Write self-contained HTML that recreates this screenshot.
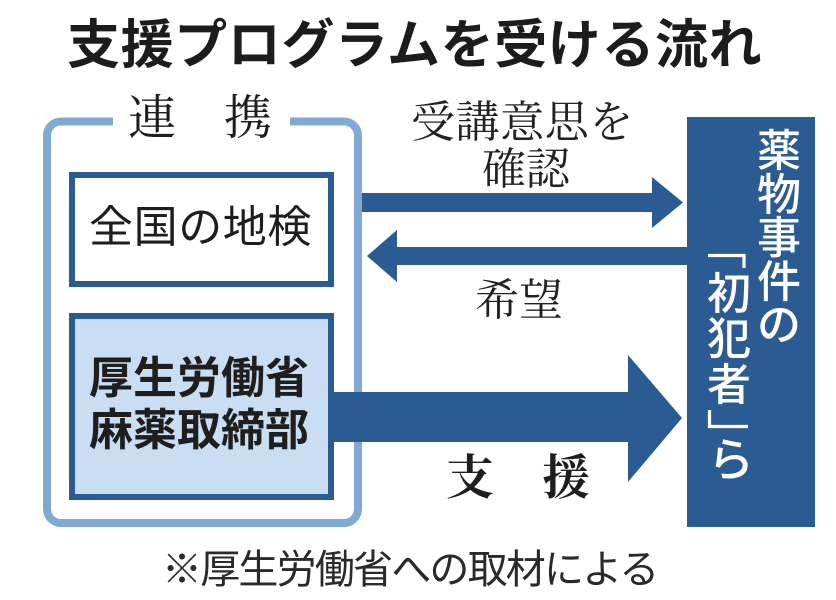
<!DOCTYPE html>
<html lang="ja">
<head>
<meta charset="utf-8">
<style>
  html,body{margin:0;padding:0;background:#fff;}
  #wrap{position:relative;width:836px;height:600px;overflow:hidden;background:#fff;}
  svg{position:absolute;left:0;top:0;}
  .t{position:absolute;white-space:nowrap;margin:0;padding:0;}
  .sans{font-family:"Liberation Sans","Noto Sans CJK JP",sans-serif;}
  .serif{font-family:"Liberation Serif","Noto Serif CJK SC","Noto Serif CJK JP",serif;}
  .v{position:absolute;width:44px;text-align:center;color:#fff;font-size:44px;line-height:44px;font-weight:500;
     font-family:"Liberation Sans","Noto Sans CJK JP",sans-serif;}
</style>
</head>
<body>
<div id="wrap">
<svg width="836" height="600" viewBox="0 0 836 600">
  <!-- outer light-blue frame -->
  <path d="M113,121.5 H61 A14,14 0 0 0 47,135.5 V509 A14,14 0 0 0 61,523 H344 A14,14 0 0 0 358,509 V135.5 A14,14 0 0 0 344,121.5 H290"
        fill="none" stroke="#80a9d3" stroke-width="8"/>
  <!-- box 1 -->
  <rect x="72" y="175" width="259" height="109" fill="#fff" stroke="#2b5b93" stroke-width="6"/>
  <!-- box 2 -->
  <rect x="72" y="316" width="259" height="181" fill="#c9def2" stroke="#2b5b93" stroke-width="6"/>
  <!-- right box -->
  <rect x="687" y="117" width="128" height="410" fill="#2b5b93"/>
  <!-- arrow 1 right -->
  <polygon points="362,193 652,193 652,177 683,202.5 652,228 652,212 362,212" fill="#2b5b93"/>
  <!-- arrow 2 left -->
  <polygon points="687,247 397,247 397,230 367,256 397,282 397,265 687,265" fill="#2b5b93"/>
  <!-- arrow 3 big right -->
  <polygon points="334,392 628,392 628,355 682,418 628,482 628,442 334,442" fill="#2b5b93"/>
  <!-- vertical brackets -->
  <path d="M708,255.5 H744 V268" fill="none" stroke="#fff" stroke-width="3.2"/>
  <path d="M709.5,410 V426.5 H748" fill="none" stroke="#fff" stroke-width="3.2"/>
</svg>

<!-- title -->
<div class="t sans" style="left:67px;top:19px;font-size:53px;line-height:53px;font-weight:700;letter-spacing:0.6px;color:#1c1c1c;">支援プログラムを受ける流れ</div>

<!-- 連携 -->
<div class="t serif" style="left:128px;top:95px;font-size:48px;line-height:48px;color:#1e1e1e;">連　携</div>

<!-- labels -->
<div class="t serif" style="left:411px;top:101px;font-size:44px;line-height:44px;letter-spacing:0.6px;color:#222;">受講意思を</div>
<div class="t serif" style="left:482px;top:148px;font-size:44px;line-height:44px;color:#222;">確認</div>
<div class="t serif" style="left:475px;top:279px;font-size:44px;line-height:44px;color:#222;">希望</div>
<div class="t serif" style="left:446px;top:455px;font-size:48px;line-height:48px;font-weight:700;color:#1e1e1e;">支　援</div>

<!-- box texts -->
<div class="t sans" style="left:89px;top:206px;font-size:44px;line-height:44px;letter-spacing:0.6px;color:#1e1e1e;">全国の地検</div>
<div class="t sans" style="left:89px;top:353px;font-size:44px;line-height:52px;font-weight:700;color:#1e1e1e;">厚生労働省<br>麻薬取締部</div>

<!-- right vertical text: right column -->
<div class="v" style="left:757px;top:130px;">薬</div>
<div class="v" style="left:757px;top:173.6px;">物</div>
<div class="v" style="left:757px;top:217.2px;">事</div>
<div class="v" style="left:757px;top:260.8px;">件</div>
<div class="v" style="left:757px;top:304.4px;">の</div>
<!-- left column -->
<div class="v" style="left:707px;top:273px;">初</div>
<div class="v" style="left:707px;top:318px;">犯</div>
<div class="v" style="left:707px;top:364px;">者</div>
<div class="v" style="left:708px;top:437px;font-size:46px;line-height:46px;width:44px;">ら</div>

<!-- footnote -->
<div class="t sans" style="left:162px;top:550px;font-size:40px;line-height:40px;letter-spacing:-1.8px;color:#2a2a2a;">※厚生労働省への取材による</div>
</div>
</body>
</html>
